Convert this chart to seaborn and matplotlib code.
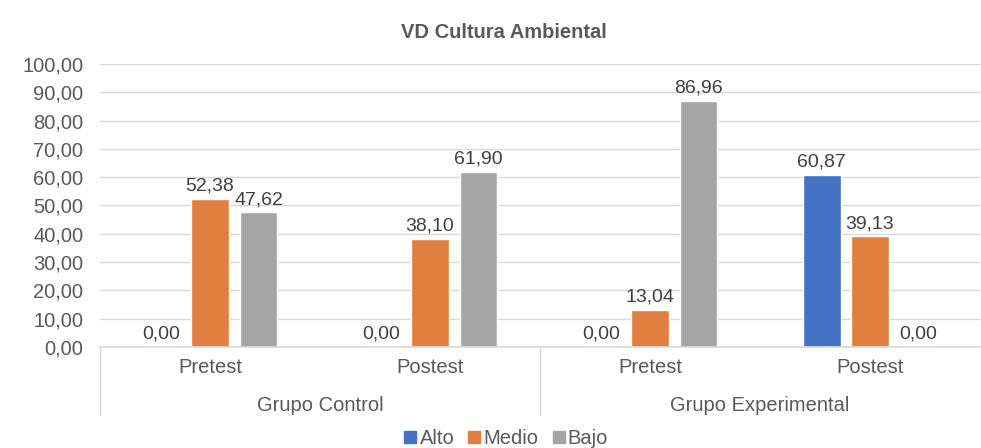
import matplotlib
matplotlib.use("Agg")
import matplotlib.pyplot as plt
import seaborn as sns
import pandas as pd
from matplotlib.lines import Line2D

# Data
groups = ["Grupo Control", "Grupo Control", "Grupo Experimental", "Grupo Experimental"]
phases = ["Pretest", "Postest", "Pretest", "Postest"]
levels = ["Alto", "Medio", "Bajo"]
alto = [0.00, 0.00, 0.00, 60.87]
medio = [52.38, 38.10, 13.04, 39.13]
bajo = [47.62, 61.90, 86.96, 0.00]
y_ticks = [0, 10, 20, 30, 40, 50, 60, 70, 80, 90, 100]

colors = {"Alto": "#4472C4", "Medio": "#E07F3F", "Bajo": "#A5A5A5"}
text_color = "#595959"

rows = []
for i in range(4):
    cat = f"{groups[i]}|{phases[i]}"
    for lev, vals in zip(levels, [alto, medio, bajo]):
        rows.append({"cat": cat, "nivel": lev, "valor": vals[i]})
df = pd.DataFrame(rows)
cats = [f"{g}|{p}" for g, p in zip(groups, phases)]

sns.set_theme(style="white")
plt.rcParams["font.family"] = ["Liberation Sans", "DejaVu Sans"]

fig = plt.figure(figsize=(9.81, 4.48), dpi=100)
ax = fig.add_axes([0.102, 0.2254, 0.897, 0.632])

sns.barplot(data=df, x="cat", y="valor", hue="nivel", order=cats, hue_order=levels,
            palette=colors, width=0.66, gap=0.22, ax=ax, legend=False, saturation=1)

fmt = lambda v: f"{v:.2f}".replace(".", ",")
for cont in ax.containers:
    ax.bar_label(cont, labels=[fmt(b.get_height()) for b in cont], padding=3,
                 fontsize=14, color="#404040")

ax.set_ylim(0, 100)
ax.set_xlim(-0.5, 3.5)
ax.set_yticks(y_ticks)
ax.set_yticklabels([fmt(v) for v in y_ticks], fontsize=14.5, color=text_color)
ax.yaxis.grid(True, color="#D9D9D9", linewidth=1)
ax.set_axisbelow(True)
for s in ["top", "right", "left"]:
    ax.spines[s].set_visible(False)
ax.spines["bottom"].set_color("#D9D9D9")
ax.tick_params(axis="y", length=0, pad=12)
ax.tick_params(axis="x", length=0, pad=8)
ax.set_xticks(range(4))
ax.set_xticklabels(phases, fontsize=14.5, color=text_color)
ax.set_xlabel("")
ax.set_ylabel("")

# group labels and separators
trans = ax.get_xaxis_transform()
for x in [-0.5, 1.5]:
    ax.add_line(Line2D([x, x], [0, -0.24], transform=trans, color="#D9D9D9",
                       linewidth=1, clip_on=False))
ax.text(0.5, -0.205, "Grupo Control", transform=trans, ha="center", va="center",
        fontsize=14.5, color=text_color)
ax.text(2.5, -0.205, "Grupo Experimental", transform=trans, ha="center", va="center",
        fontsize=14.5, color=text_color)

fig.text(0.514, 0.928, "VD Cultura Ambiental", ha="center", va="center",
         fontsize=14.5, fontweight="bold", color=text_color)

handles = [Line2D([], [], marker="s", linestyle="", markersize=8,
                  markerfacecolor=colors[l], markeredgecolor=colors[l]) for l in levels]
fig.legend(handles, levels, loc="lower center", bbox_to_anchor=(0.516, -0.04), ncol=3,
           frameon=False, fontsize=14.5, handlelength=0.6, handletextpad=0.15,
           columnspacing=0.7, labelcolor=text_color)

fig.savefig("out.png", dpi=100)
